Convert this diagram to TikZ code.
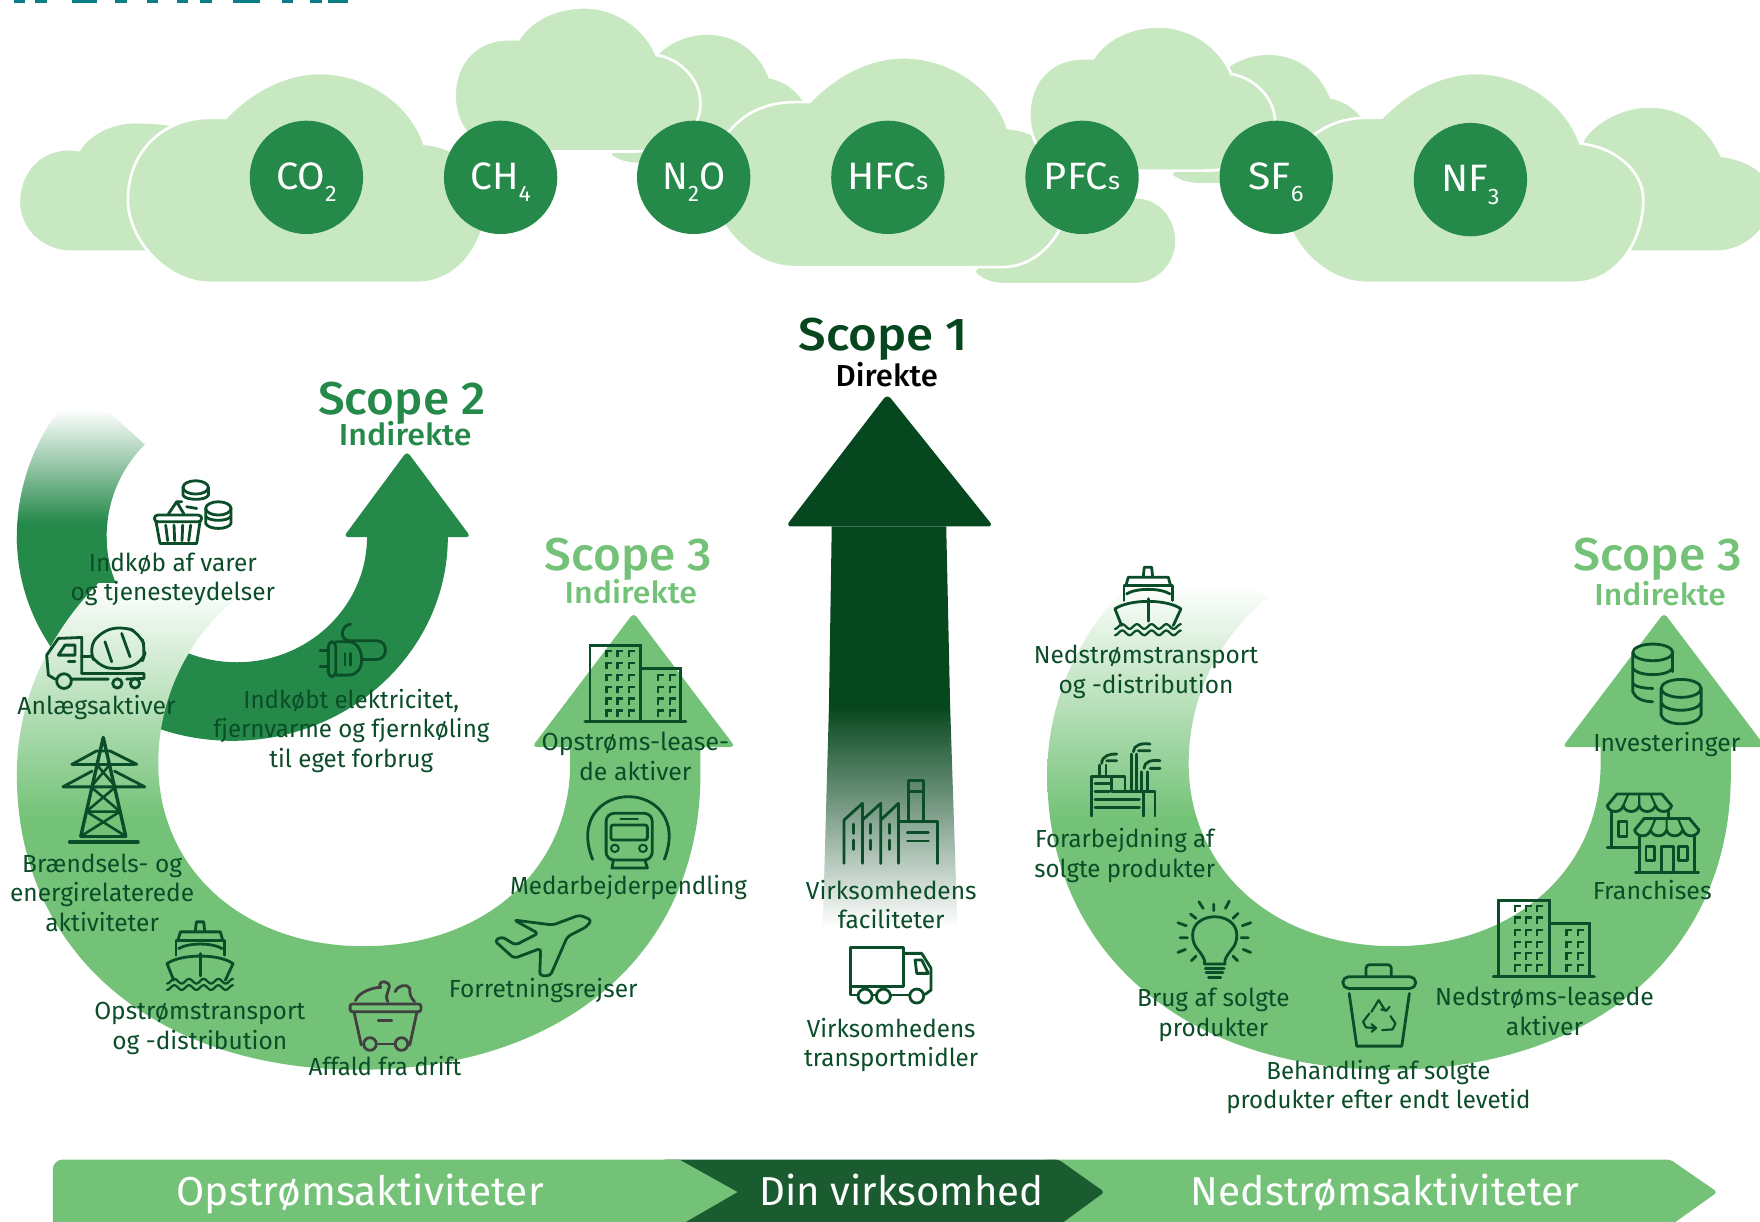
\documentclass[tikz,border=0pt]{standalone}
\usepackage{fontspec}
\setmainfont{Fira Sans}
\newfontfamily\medf{Fira Sans Medium}
\definecolor{cloudc}{HTML}{C8E8C2}
\definecolor{midg}{HTML}{25894A}
\definecolor{lightg}{HTML}{73C277}
\definecolor{darkg}{HTML}{07471F}
\definecolor{barg}{HTML}{1A5C30}
\definecolor{iconc}{HTML}{0B4D28}
\definecolor{tealc}{HTML}{0A7E85}
\newsavebox\lbbox
\newcommand\fitw[2]{\sbox\lbbox{\begin{tabular}{@{}c@{}}#2\end{tabular}}\pgfmathsetmacro\fitr{#1/\wd\lbbox}\scalebox{\fitr}[1]{\usebox\lbbox}}
\newcommand\subn[1]{\raisebox{-11pt}[0pt][0pt]{\fontsize{20}{20}\selectfont #1}}
\newcommand\lab[5]{\node[lbl] (#1) at (#2,#3+3) {\fitw{#4}{#5}};}
\newcommand\gasn[5]{\node[gas] (#1) at (#2,#3) {}; \node[gast] (#1t) at (#2,#3+4) {\fitw{#4}{#5}};}
\tikzset{
 lbl/.style={inner sep=0pt,text=iconc,font=\fontsize{22}{26.3}\selectfont},
 gas/.style={circle,fill=midg,minimum size=101pt,inner sep=0pt},
 gast/.style={inner sep=0pt,text=white,font=\fontsize{34}{34}\selectfont},
 scopet/.style={inner sep=0pt,font=\medf\fontsize{41}{41}\selectfont},
 scopes/.style={inner sep=0pt,font=\medf\fontsize{27}{27}\selectfont},
 bart/.style={inner sep=0pt,text=white,font=\fontsize{36}{36}\selectfont},
 ic/.style={draw=iconc,line width=2.5pt,line cap=round,line join=round},
 cl/.style={fill=cloudc},
 clw/.style={fill=cloudc,draw=white,line width=2.4pt},
 z3/.style={shift={(0,338.6)},scale=.297},
 z4/.style={shift={(0,694.9)},xscale=.432,yscale=.297},
 z6/.style={shift={(980,552.4)},xscale=.375,yscale=.297},
 z7/.style={shift={(730.6,677.1)},scale=.297},
 z8/.style={shift={(953.3,650.4)},scale=.297},
 z11/.style={shift={(1389.9,552.4)},scale=.297}
}
\newcommand\bigcloud[2]{\path[clw,shift={(#1,#2)}] (187,252) -- (372,252) .. controls (410,252) and (434,215) .. (434,178) .. controls (434,150) and (405,130) .. (378,128) .. controls (365,90) and (325,65) .. (285,65) .. controls (250,65) and (220,85) .. (201,105) -- (187,105) .. controls (145,105) and (114,135) .. (114,178) .. controls (114,215) and (150,252) .. (187,252) -- cycle;}
\newcommand\topcloud[2]{\path[clw,shift={(#1,#2)}] (452,135) -- (560,135) .. controls (600,135) and (624,120) .. (624,92) .. controls (624,70) and (605,52) .. (585,49) .. controls (575,25) and (550,6.5) .. (520,6.5) .. controls (495,6.5) and (472,18) .. (462,35) -- (452,35) .. controls (425,35) and (405,55) .. (405,85) .. controls (405,115) and (425,135) .. (452,135) -- cycle;}
\newcommand\backcloud[2]{\path[cl,shift={(#1,#2)}] (590,145) -- (700,145) -- (720,100) .. controls (715,85) and (700,72) .. (685,70) .. controls (675,45) and (655,31) .. (630,31) .. controls (610,31) and (595,40) .. (585,50) -- (570,80) -- (545,138) .. controls (552,143) and (560,145) .. (570,145) -- cycle;}
\newcommand\bandpath{(132.2,482.8) .. controls (58.2,532.6) and (15,609) .. (15,690) .. controls (15,848) and (137,953) .. (320,953) .. controls (503,953) and (624,848) .. (624,690) -- (624,660) -- (508,660) -- (508,680) .. controls (508,775) and (431,843) .. (324,843) .. controls (217,843) and (141,775) .. (141,680) .. controls (141,622.4) and (166.9,568) .. (211.3,532.6) -- cycle}
\newcommand\lightband{%
 \begin{scope}
  \clip \bandpath;
  \shade[top color=white,bottom color=lightg] (0,520) rectangle (321,730);
  \fill[lightg] (320,400) rectangle (700,1000);
  \fill[lightg] (0,729.5) rectangle (321,1000);
 \end{scope}
 \fill[lightg,rounded corners=4pt] (508,665.5) -- (474,665.5) -- (564.5,546) -- (655,665.5) -- (622,665.5) -- cycle;
}
\newcommand\shipicon[2]{\begin{scope}[shift={(#1,#2)},scale=.297,shift={(-1105,-900)}]
 \draw[ic] (1090,828) -- (1093,800) -- (1115,800) -- (1118,828);
 \draw[ic] (1038,855) -- (1045,830) -- (1165,830) -- (1172,855);
 \draw[ic] (1032,900) -- (1032,855) -- (1178,855) -- (1178,900);
 \draw[ic] (1040,880) .. controls (1070,862) and (1140,862) .. (1170,880);
 \draw[ic] (1025,975) -- (1005,925) .. controls (1050,895) and (1160,895) .. (1203,925) -- (1180,975);
 \draw[ic] (1105,895) -- (1105,962);
 \draw[ic,line width=2pt] plot[domain=0:1,samples=70] ({1005+198*\x},{978+7*cos(1620*\x)});
 \draw[ic,line width=2pt] plot[domain=0:1,samples=70] ({1005+198*\x},{997+7*cos(1620*\x)});
\end{scope}}
\newcommand\bldgicon[2]{\begin{scope}[shift={(#1,#2)},scale=.297,shift={(-210,-167)}]
 \draw[ic,line cap=butt,line join=miter] (210,395) -- (210,167) -- (362,167) -- (362,395);
 \draw[ic,line cap=butt,line join=miter] (362,237) -- (482,237) -- (482,395);
 \draw[ic,line width=3pt] (195,395) -- (497,395);
 \foreach \wy in {190,225,262,298,332,368} \foreach \wx in {265,298,332}
   \draw[iconc,line width=2.2pt] (\wx-6,\wy+13) -- (\wx-6,\wy-6) -- (\wx+12,\wy-6);
 \foreach \wy in {262,298,332,368} \foreach \wx in {420,455}
   \draw[iconc,line width=2.2pt] (\wx-6,\wy+13) -- (\wx-6,\wy-6) -- (\wx+12,\wy-6);
\end{scope}}
\begin{document}
\begin{tikzpicture}[x=1pt,y=-1pt]
\useasboundingbox (0,0) rectangle (1568,1087.8);
\clip (0,0) rectangle (1568,1087.8);
% title fragment
\foreach \a/\b in {42/75,105/140,215/290,345/380,440/475,530/565,600/635,700/780,845/880,930/965,985/1045}
  \fill[tealc] (\a/3.367,0) rectangle (\b/3.367,2.8);
% clouds
\path[cl] (70,223) -- (200,223) -- (200,130) .. controls (180,115) and (150,110) .. (120,110) .. controls (100,110) and (80,120) .. (71,135) -- (62,134) .. controls (35,134) and (18,155) .. (18,180) .. controls (18,205) and (40,223) .. (62,223) -- cycle;
\bigcloud{0}{0}
\backcloud{0}{0}
\topcloud{0}{0}
\path[cl] (869,242) .. controls (875,249) and (885,252) .. (894,252) -- (1011,252) .. controls (1030,252) and (1047,235) .. (1047,215) .. controls (1047,195) and (1033,178) .. (1014,177) -- (940,177) -- (880,230) -- cycle;
\bigcloud{520}{-14}
\backcloud{500}{18}
\topcloud{512}{17}
\path[cl] (1400,223) -- (1529,223) .. controls (1560,223) and (1580,195) .. (1578,175) .. controls (1578,155) and (1555,142) .. (1533,140) .. controls (1522,115) and (1500,96) .. (1469,96) .. controls (1445,96) and (1420,110) .. (1411,126) -- cycle;
\bigcloud{1030}{0}
% gas circles
\gasn{co2}{273}{158}{54}{CO\subn{2}}
\gasn{ch4}{446}{158}{54}{CH\subn{4}}
\gasn{n2o}{618}{158}{56}{N\subn{2}O}
\gasn{hfc}{791}{158}{72}{HFC{\fontsize{22}{22}\selectfont s}}
\gasn{pfc}{964}{158}{68}{PFC{\fontsize{22}{22}\selectfont s}}
\gasn{sf6}{1137}{158}{49}{SF\subn{6}}
\gasn{nf3}{1310}{160}{52}{NF\subn{3}}
% scope 2 band
\begin{scope}
 \clip (15,484) -- (15,478) .. controls (15,428) and (35.2,379.2) .. (71.2,343.6) -- (129,396) .. controls (107.3,417.7) and (95,447) .. (95,478) -- (95,484) -- cycle;
 \shade[top color=white,bottom color=midg] (0,365) rectangle (200,466);
 \fill[midg] (0,465.5) rectangle (200,490);
\end{scope}
\fill[midg] (399,478) .. controls (399,579) and (313,660) .. (207,660) .. controls (101,660) and (15,579) .. (15,478) -- (95,478) .. controls (95,540) and (147,590) .. (211,590) .. controls (275,590) and (327,540) .. (327,478) -- cycle;
\fill[midg,rounded corners=4pt] (327,478.5) -- (306,478.5) -- (362.6,402) -- (419.5,478.5) -- (399,478.5) -- cycle;
% scope 3 bands
\lightband
\begin{scope}[shift={(918,0)}]\lightband\end{scope}
% scope 1 arrow
\fill[darkg] (741,469) -- (843,469) -- (846.5,630.5) -- (738.5,630.5) -- cycle;
\fill[darkg,rounded corners=5pt] (741,469) -- (700,469) -- (790.5,351) -- (885,469) -- (843,469) -- cycle;
\shade[top color=darkg,middle color=darkg!60!white,bottom color=white] (738.5,630) -- (846.5,630) -- (853,826) -- (733,826) -- cycle;
% bottom bar
\fill[lightg,rounded corners=3pt] (930,1033) -- (1488,1033) -- (1530,1062) -- (1488,1092) -- (930,1092) -- cycle;
\fill[barg,rounded corners=3pt] (590,1033) -- (943,1033) -- (984,1062) -- (943,1092) -- (590,1092) -- cycle;
\fill[lightg] (47,1100) -- (47,1042) [rounded corners=9pt] -- (47,1033) [sharp corners] -- (605,1033) -- (657,1062) -- (605,1092) -- (605,1100) -- cycle;
% ICONS
% basket and coins
\begin{scope}[z3]
 \draw[ic] (587,322) ellipse [x radius=38,y radius=20];
 \draw[ic] (549,322) -- (549,345) .. controls (555,362) and (620,362) .. (625,345) -- (625,322);
 \draw[ic] (560,380) -- (590,385);
 \draw[ic] (655,385) ellipse [x radius=38,y radius=20];
 \draw[ic] (617,385) -- (617,430) .. controls (625,450) and (685,450) .. (693,430) -- (693,385);
 \draw[ic] (617,408) .. controls (625,425) and (685,425) .. (693,408);
 \draw[ic,rounded corners=3pt] (463,405) rectangle (605,425);
 \draw[ic] (468,425) -- (480,490) -- (590,490) -- (600,425);
 \draw[ic] (497,435) -- (503,482) (522,435) -- (524,482) (548,435) -- (546,482) (572,435) -- (566,482);
 \draw[ic] (505,402) -- (530,365) -- (552,402) (530,365) -- (545,365);
\end{scope}
% mixer truck
\begin{scope}[z3]
 \draw[ic] (165,897) -- (145,885) -- (140,825) -- (175,775) -- (245,772) -- (245,880);
 \draw[ic] (175,825) -- (195,795) -- (225,795) -- (225,825) -- cycle;
 \draw[ic] (205,845) -- (225,845);
 \draw[ic] (245,880) -- (432,880) -- (432,895) -- (380,897) (325,897) -- (215,897);
 \draw[ic] (192,903) circle [radius=22];
 \draw[ic] (352,910) circle [radius=14];
 \draw[ic] (405,910) circle [radius=14];
 \draw[ic,rounded corners=10pt] (265,810) -- (300,755) -- (370,738) -- (420,760) -- (438,810) -- (425,850) -- (350,870) -- (290,855) -- cycle;
 \draw[ic] (315,785) -- (335,845) (365,760) -- (390,830);
 \draw[ic] (245,830) -- (270,830);
\end{scope}
% plug
\begin{scope}[z3]
 \draw[ic,rounded corners=4pt] (985,785) rectangle (1007,890);
 \draw[ic] (1007,785) -- (1045,785) .. controls (1070,785) and (1085,810) .. (1085,838) .. controls (1085,865) and (1070,885) .. (1045,885) -- (1007,885);
 \draw[ic] (960,812) -- (985,812) (960,860) -- (985,860);
 \draw[ic] (1035,820) -- (1035,855) (1052,820) -- (1052,855);
 \draw[ic] (1085,838) -- (1130,838) .. controls (1165,838) and (1165,782) .. (1130,782) -- (1045,782) .. controls (1015,775) and (1025,735) .. (1052,732);
\end{scope}
% pylon
\draw[ic,line width=3pt] (92,657) -- (72,745) (92,657) -- (112,745);
\draw[ic,line width=3pt] (62,750) -- (123,750) (72,745) -- (112,745);
\draw[ic] (64,681) -- (86,669) -- (98,669) -- (122,681) (64,681) -- (120,681);
\draw[ic] (56,701) -- (82,687) (129,701) -- (102,687) (56,701) -- (129,701);
\draw[ic,line width=2.3pt] (86,681) -- (103,701) (98,681) -- (81,701) (81,701) -- (107,723) (103,701) -- (77,723) (77,723) -- (112,745) (107,723) -- (72,745) (77,723) -- (107,723);
% ships
\shipicon{178.5}{851}
\shipicon{1023}{535}
% waste bin
\begin{scope}[z4]
 \draw[ic,draw=black!75,rounded corners=2pt] (722,672) rectangle (868,695);
 \draw[ic,draw=black!75] (730,695) -- (745,795) (860,695) -- (845,795);
 \draw[ic,draw=black!75] (780,792) -- (812,792) (780,722) -- (808,722);
 \draw[ic,draw=black!75] (763,792) ellipse [x radius=13,y radius=19];
 \draw[ic,draw=black!75] (828,792) ellipse [x radius=13,y radius=19];
 \draw[ic,draw=black!75] (733,662) .. controls (740,635) and (770,622) .. (785,622) .. controls (778,610) and (790,598) .. (800,610) .. controls (810,625) and (790,640) .. (800,665);
 \draw[ic,draw=black!75] (815,635) .. controls (820,615) and (840,610) .. (845,625) .. controls (845,640) and (845,650) .. (855,665);
\end{scope}
% plane
\begin{scope}[z4]
 \draw[ic,rounded corners=3pt] (1020,482) -- (1060,535) -- (1115,505) -- (1113,587) -- (1135,587) -- (1170,470) -- (1210,440) -- (1220,420) -- (1195,405) -- (1140,435) -- (1060,420) -- (1110,460) -- (1063,495) -- (1035,470) -- cycle;
\end{scope}
% train
\begin{scope}[z4]
 \draw[ic] (1222,238) .. controls (1190,120) and (1240,50) .. (1296,50) .. controls (1352,50) and (1402,120) .. (1370,238);
 \draw[ic,rounded corners=7pt] (1250,240) -- (1250,100) -- (1345,100) -- (1345,240) -- cycle;
 \draw[ic,rounded corners=2pt] (1260,135) rectangle (1335,180);
 \draw[ic] (1280,117) -- (1315,117);
 \draw[ic,line width=1.8pt] (1268,205) ellipse [x radius=8,y radius=11];
 \draw[ic,line width=1.8pt] (1326,205) ellipse [x radius=8,y radius=11];
 \draw[ic] (1265,240) -- (1262,264) -- (1335,264) -- (1330,240);
\end{scope}
% buildings
\bldgicon{525.7}{575}
\bldgicon{1335}{802}
% factory
\begin{scope}[z7]
 \draw[ic] (72,310) -- (72,180) -- (127,130) -- (127,310) (127,180) -- (182,130) -- (182,310) (182,180) -- (235,130) -- (235,310);
 \draw[ic] (265,185) -- (265,62) -- (310,62) -- (310,185) (265,95) -- (310,95);
 \draw[ic] (240,185) -- (352,185) -- (352,310);
 \draw[ic] (262,218) -- (325,218) (262,243) -- (325,243);
 \foreach \wx in {100,152,208} \draw[ic] (\wx,192) -- (\wx,220) (\wx,240) -- (\wx,268);
\end{scope}
% truck
\begin{scope}[z7]
 \draw[ic] (92,680) -- (92,562) -- (250,562) -- (250,680) -- cycle;
 \draw[ic] (250,580) -- (305,580) -- (333,625) -- (333,690) -- (315,703);
 \draw[ic] (285,600) -- (305,600) -- (325,640) -- (290,640) -- cycle;
 \draw[ic] (92,680) -- (92,705) -- (112,705) (157,705) -- (168,705) (212,705) -- (268,705);
 \draw[ic] (135,708) circle [radius=21];
 \draw[ic] (190,708) circle [radius=21];
 \draw[ic] (290,708) circle [radius=21];
\end{scope}
% industry
\begin{scope}[z8]
 \draw[ic] (65,258) -- (65,140) -- (165,140) -- (165,185) -- (125,185) -- (125,140);
 \draw[ic] (125,185) -- (255,185) -- (255,258) (220,185) -- (220,258);
 \draw[ic] (75,160) -- (118,160) (75,185) -- (118,185) (75,208) -- (208,208) (75,232) -- (208,232);
 \draw[ic] (88,140) -- (88,105) (108,140) -- (108,105) (185,185) -- (185,72) (200,185) -- (200,72) (215,185) -- (215,125) (232,185) -- (232,125);
 \draw[ic] (95,100) .. controls (95,78) and (120,70) .. (140,72) (110,92) -- (140,92);
 \draw[ic] (190,65) .. controls (190,45) and (215,38) .. (240,42) (205,62) -- (240,62);
 \draw[ic] (222,115) .. controls (222,95) and (245,88) .. (270,92) (240,115) -- (270,115);
\end{scope}
% bulb
\begin{scope}[z6]
 \draw[ic] (248,1032) -- (248,1020) .. controls (240,990) and (220,985) .. (220,945) .. controls (220,910) and (245,890) .. (272,890) .. controls (300,890) and (325,910) .. (325,945) .. controls (325,985) and (305,990) .. (297,1020) -- (297,1032) -- cycle;
 \draw[ic] (250,1045) -- (295,1045) (252,1058) -- (292,1058) (258,1072) -- (287,1072);
 \draw[ic] (235,845) -- (245,865) (270,852) -- (270,872) (307,843) -- (298,865) (215,882) -- (228,895) (328,880) -- (316,895) (185,908) -- (205,917) (358,908) -- (338,917) (190,953) -- (208,953) (335,953) -- (352,953) (185,997) -- (203,988) (358,997) -- (340,988) (217,1022) -- (228,1008) (327,1022) -- (316,1008);
\end{scope}
% recycle bin
\begin{scope}[z6]
 \draw[ic,rounded corners=5pt] (577,1070) rectangle (750,1105);
 \draw[ic,rounded corners=3pt] (632,1068) -- (632,1034) -- (692,1034) -- (692,1068);
 \draw[ic] (592,1120) -- (610,1278) -- (717,1278) -- (735,1120);
 \draw[ic,line width=1.9pt] (645,1175) -- (662,1140) -- (678,1172) (668,1168) -- (680,1172) -- (688,1160);
 \draw[ic,line width=1.9pt] (640,1180) -- (625,1205) -- (632,1222) -- (655,1224) (645,1212) -- (656,1224) -- (645,1235);
 \draw[ic,line width=1.9pt] (670,1230) -- (695,1228) -- (702,1210) -- (690,1188);
\end{scope}
% franchise
\begin{scope}[z6]
 \foreach \dx/\dy in {0/0,65/73}{
 \begin{scope}[shift={(\dx,\dy)}]
 \draw[ic] (1205,557) -- (1228,522) -- (1335,522) -- (1358,557);
 \foreach \sx in {1205,1243,1281,1320}{
   \draw[ic] (\sx,557) .. controls (\sx+5,580) and (\sx+33,580) .. (\sx+38,557);
 }
 \draw[ic,line width=1.9pt] (1243,557) -- (1255,522) (1281,557) -- (1281,522) (1320,557) -- (1308,522);
 \end{scope}}
 \draw[ic] (1215,575) -- (1215,683) (1205,683) -- (1278,683) (1350,575) -- (1350,595);
 \draw[ic] (1232,605) rectangle (1252,650);
 \draw[ic] (1282,650) -- (1282,757) (1412,650) -- (1412,757) (1272,757) -- (1422,757);
 \draw[ic] (1297,680) rectangle (1317,722);
 \draw[ic] (1375,680) rectangle (1395,722);
 \draw[ic] (1333,757) -- (1333,680) -- (1362,680) -- (1362,757);
\end{scope}
% coins right
\begin{scope}[z11]
 \draw[ic] (278,97) ellipse [x radius=60,y radius=25];
 \draw[ic] (218,97) -- (218,215) .. controls (225,235) and (250,245) .. (278,245);
 \draw[ic] (338,97) -- (338,155);
 \draw[ic] (218,145) .. controls (235,170) and (320,170) .. (338,145);
 \draw[ic] (218,190) .. controls (225,200) and (250,205) .. (278,205);
 \draw[ic] (363,205) ellipse [x radius=60,y radius=27];
 \draw[ic] (303,205) -- (303,285) .. controls (315,320) and (410,320) .. (423,285) -- (423,205);
 \draw[ic] (303,248) .. controls (315,278) and (410,278) .. (423,248);
\end{scope}
% Scope titles
\node[scopet,text=darkg] (s1) at (787,304) {\fitw{151}{Scope 1}};
\node[scopes,text=black] (s1b) at (790,337.5) {\fitw{91}{Direkte}};
\node[scopet,text=midg] (s2) at (358,361) {\fitw{149}{Scope 2}};
\node[scopes,text=midg] (s2b) at (361,390) {\fitw{118}{Indirekte}};
\node[scopet,text=lightg] (s3a) at (560,500) {\fitw{149}{Scope 3}};
\node[scopes,text=lightg] (s3ab) at (562,531) {\fitw{118}{Indirekte}};
\node[scopet,text=lightg] (s3b) at (1477,500) {\fitw{150}{Scope 3}};
\node[scopes,text=lightg] (s3bb) at (1479,533) {\fitw{117}{Indirekte}};
% labels
\lab{l1}{154}{514}{182}{Indkøb af varer\\og tjenesteydelser}
\lab{l2}{86}{628}{141}{Anlægsaktiver}
\lab{l3}{313}{649}{246}{Indkøbt elektricitet,\\fjernvarme og fjernkøling\\til eget forbrug}
\lab{l4}{91}{795}{164}{Brændsels- og\\energirelaterede\\aktiviteter}
\lab{l5}{178}{913.5}{188}{Opstrømstransport\\og -distribution}
\lab{l6}{343}{950}{136}{Affald fra drift}
\lab{l7}{484}{880}{168}{Forretningsrejser}
\lab{l8}{560}{789}{211}{Medarbejderpendling}
\lab{l9}{566}{673.5}{167}{Opstrøms-lease-\\de aktiver}
\lab{l10}{794}{806}{152}{Virksomhedens\\faciliteter}
\lab{l11}{794}{929}{155}{Virksomhedens\\transportmidler}
\lab{l12}{1021}{596}{200}{Nedstrømstransport\\og -distribution}
\lab{l13}{1002}{760}{161}{Forarbejdning af\\solgte produkter}
\lab{l14}{1081}{902}{136}{Brug af solgte\\produkter}
\lab{l15}{1228}{966.5}{271}{Behandling af solgte\\produkter efter endt levetid}
\lab{l16}{1376}{901}{195}{Nedstrøms-leasede\\aktiver}
\lab{l17}{1472}{793}{106}{Franchises}
\lab{l18}{1485}{661}{131}{Investeringer}
% bar text
\node[bart] (b1) at (321,1065) {\fitw{327}{Opstrømsaktiviteter}};
\node[bart] (b2) at (803,1065) {\fitw{253}{Din virksomhed}};
\node[bart] (b3) at (1234,1065) {\fitw{346}{Nedstrømsaktiviteter}};
\end{tikzpicture}
\end{document}
